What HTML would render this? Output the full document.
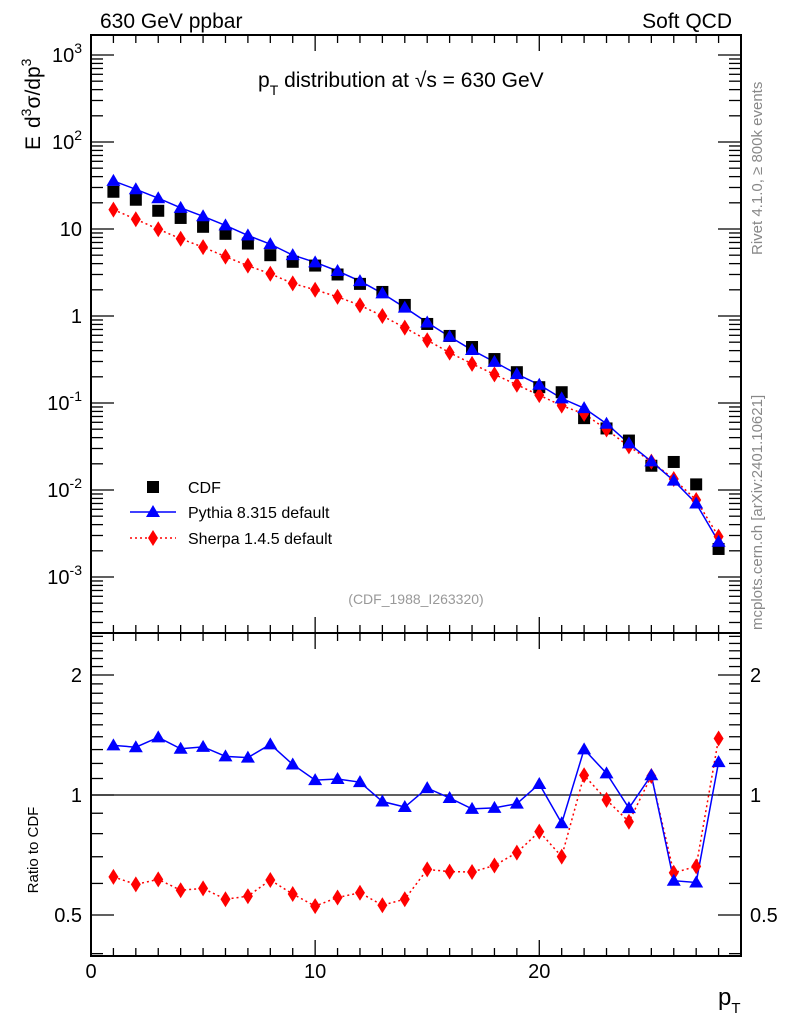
<!DOCTYPE html>
<html><head><meta charset="utf-8"><style>
html,body{margin:0;padding:0;background:#fff;}
svg{display:block;font-family:"Liberation Sans",sans-serif;}
</style></head><body>
<svg id="chart" width="786" height="1024" viewBox="0 0 786 1024">
<text x="100" y="28" font-size="21">630 GeV ppbar</text>
<text x="732" y="28" font-size="21" text-anchor="end">Soft QCD</text>
<text x="258" y="87" font-size="21">p<tspan font-size="14" dy="8">T</tspan><tspan dy="-8"> distribution at √s = 630 GeV</tspan></text>
<text transform="translate(40,150) rotate(-90)" font-size="21">E</text>
<text transform="translate(40,128) rotate(-90)" font-size="21">d<tspan font-size="14" dy="-9">3</tspan><tspan dy="9">σ/dp</tspan><tspan font-size="14" dy="-9">3</tspan></text>
<text transform="translate(38,850) rotate(-90)" font-size="15" text-anchor="middle">Ratio to CDF</text>
<text transform="translate(762,255) rotate(-90)" font-size="15" fill="#888">Rivet 4.1.0, ≥ 800k events</text>
<text transform="translate(762,630) rotate(-90)" font-size="15" fill="#888">mcplots.cern.ch [arXiv:2401.10621]</text>
<text x="416" y="604" font-size="14" fill="#999" text-anchor="middle">(CDF_1988_I263320)</text>
<text x="718" y="1005" font-size="24">p<tspan font-size="15" dy="8">T</tspan></text>
<g id="g-axes"></g>
<g id="g-marks"></g>
<g>
 <rect x="147" y="481" width="12" height="12" fill="#000"/>
 <text x="188" y="493" font-size="16">CDF</text>
 <line x1="130" y1="512" x2="176" y2="512" stroke="#00f" stroke-width="1.5"/>
 <polygon points="153,505 160,517 146,517" fill="#00f"/>
 <text x="188" y="518" font-size="16">Pythia 8.315 default</text>
 <line x1="130" y1="538" x2="176" y2="538" stroke="#f00" stroke-width="1.5" stroke-dasharray="2,3"/>
 <polygon points="153,530 158,538 153,546 148,538" fill="#f00"/>
 <text x="188" y="544" font-size="16">Sherpa 1.4.5 default</text>
</g>
</svg>
<script>
const ptBins = [1,2,3,4,5,6,7,8,9,10,11,12,13,14,15,16,17,18,19,20,21,22,23,24,25,26,27,28];
const cdfValues = [26.8,21.7,16.2,13.4,10.6,8.8,6.8,5.0,4.2,3.8,3.0,2.34,1.89,1.34,0.81,0.59,0.44,0.32,0.226,0.152,0.133,0.067,0.051,0.037,0.019,0.021,0.0116,0.0021];
const pythiaValues = [35.7,28.6,22.6,17.5,14.0,11.0,8.44,6.70,5.01,4.14,3.29,2.52,1.82,1.25,0.843,0.580,0.406,0.297,0.215,0.162,0.113,0.0872,0.0578,0.0343,0.0213,0.0128,0.0070,0.00254];
const sherpaValues = [16.7,12.95,9.95,7.73,6.18,4.82,3.79,3.06,2.37,2.00,1.66,1.33,1.00,0.734,0.527,0.379,0.282,0.213,0.162,0.123,0.0932,0.0751,0.0496,0.0317,0.0212,0.0134,0.00768,0.00291];
const mainTickLabels = ["10^-3","10^-2","10^-1","1","10","10^2","10^3"];
const xTickLabels = ["0","10","20"];
const ratioTickLabels = ["0.5","1","2"];

const NS="http://www.w3.org/2000/svg";
const L=91,R=741,T=35,MB=633,RB=956;
const X0=0,X1=29;
function sx(v){return L+(v-X0)/(X1-X0)*(R-L);}
function sy(v){return 316-Math.log10(v)*87;}
function sr(v){return 795-Math.log2(v)*120;}
function mk(tag,attrs,parent){const e=document.createElementNS(NS,tag);for(const k in attrs)e.setAttribute(k,attrs[k]);parent.appendChild(e);return e;}
const ax=document.getElementById('g-axes'), mg=document.getElementById('g-marks');

let e;
e=mk('rect',{x:L,y:T,width:R-L,height:MB-T,fill:'none',stroke:'#000','stroke-width':2},ax);


e=mk('rect',{x:L,y:MB,width:R-L,height:RB-MB,fill:'none',stroke:'#000','stroke-width':2},ax);



for(let i=0;i<=28;i++){
  const x=sx(i), len=(i%10===0)?16:8;
  [[T,T+len],[MB,MB-len],[MB,MB+len],[RB,RB-len]].forEach(p=>{
    e=mk('line',{x1:x,x2:x,y1:p[0],y2:p[1],stroke:'#000','stroke-width':1.3},ax);
    
    
  });
}
xTickLabels.forEach((lab,i)=>{
  e=mk('text',{x:sx(+lab),y:978,'font-size':20,'text-anchor':'middle'},ax);
  e.textContent=lab;
  
  
});
for(let d=-4;d<=3;d++){
  for(let m=1;m<=9;m++){
    const v=m*Math.pow(10,d), y=sy(v);
    if(y<T||y>MB)continue;
    const len=m===1?23:12;
    e=mk('line',{x1:L,x2:L+len,y1:y,y2:y,stroke:'#000','stroke-width':1.3},ax);
    
    
    e=mk('line',{x1:R,x2:R-len,y1:y,y2:y,stroke:'#000','stroke-width':1.3},ax);
    
    
  }
}
mainTickLabels.forEach((lab,i)=>{
  const d=i-3, y=sy(Math.pow(10,d));
  e=mk('text',{x:82,y:y+7,'font-size':20,'text-anchor':'end'},ax);
  
  
  if(lab.indexOf('^')>=0){
    const parts=lab.split('^');
    e.textContent=parts[0];
    const ts=mk('tspan',{'font-size':14,dy:-9},e);ts.textContent=parts[1];
  } else e.textContent=lab;
});
const rt=[0.4,0.5,0.6,0.7,0.8,0.9,1,1.1,1.2,1.3,1.4,1.5,1.6,1.7,1.8,1.9,2,2.1,2.2,2.3,2.4,2.5];
rt.forEach(v=>{
  const y=sr(v); if(y<MB||y>RB)return;
  const len=(v===0.5||v===1||v===2)?23:12;
  e=mk('line',{x1:L,x2:L+len,y1:y,y2:y,stroke:'#000','stroke-width':1.3},ax);
  
  
  e=mk('line',{x1:R,x2:R-len,y1:y,y2:y,stroke:'#000','stroke-width':1.3},ax);
  
  
});
ratioTickLabels.forEach(lab=>{
  const y=sr(+lab);
  e=mk('text',{x:82,y:y+7,'font-size':20,'text-anchor':'end'},ax);e.textContent=lab;
  
  
  e=mk('text',{x:750,y:y+7,'font-size':20},ax);e.textContent=lab;
  
  
});
e=mk('line',{x1:L,x2:R,y1:sr(1),y2:sr(1),stroke:'#000','stroke-width':1.3},ax);



function tri(x,y,col,name){
  e=mk('polygon',{points:`${x},${y-7} ${x+7},${y+5} ${x-7},${y+5}`,fill:col},mg);
  
  
}
function dia(x,y,col,name){
  e=mk('polygon',{points:`${x},${y-8} ${x+5},${y} ${x},${y+8} ${x-5},${y}`,fill:col},mg);
  
  
}
function line(pts,col,dash,name){
  e=mk('polyline',{points:pts.map(p=>p.join(',')).join(' '),fill:'none',stroke:col,'stroke-width':1.5},mg);
  if(dash)e.setAttribute('stroke-dasharray','2,3');
  
  
}
line(ptBins.map((b,i)=>[sx(b),sy(sherpaValues[i])]),'#f00',true,'sherpa-line');
line(ptBins.map((b,i)=>[sx(b),sy(pythiaValues[i])]),'#00f',false,'pythia-line');
ptBins.forEach((b,i)=>{
  e=mk('rect',{x:sx(b)-6,y:sy(cdfValues[i])-6,width:12,height:12,fill:'#000'},mg);
  
  
});
ptBins.forEach((b,i)=>dia(sx(b),sy(sherpaValues[i]),'#f00','sherpa-point'));
ptBins.forEach((b,i)=>tri(sx(b),sy(pythiaValues[i]),'#00f','pythia-point'));
line(ptBins.map((b,i)=>[sx(b),sr(sherpaValues[i]/cdfValues[i])]),'#f00',true,'sherpa-ratio-line');
line(ptBins.map((b,i)=>[sx(b),sr(pythiaValues[i]/cdfValues[i])]),'#00f',false,'pythia-ratio-line');
ptBins.forEach((b,i)=>dia(sx(b),sr(sherpaValues[i]/cdfValues[i]),'#f00','sherpa-ratio-point'));
ptBins.forEach((b,i)=>tri(sx(b),sr(pythiaValues[i]/cdfValues[i]),'#00f','pythia-ratio-point'));
</script>
</body></html>
